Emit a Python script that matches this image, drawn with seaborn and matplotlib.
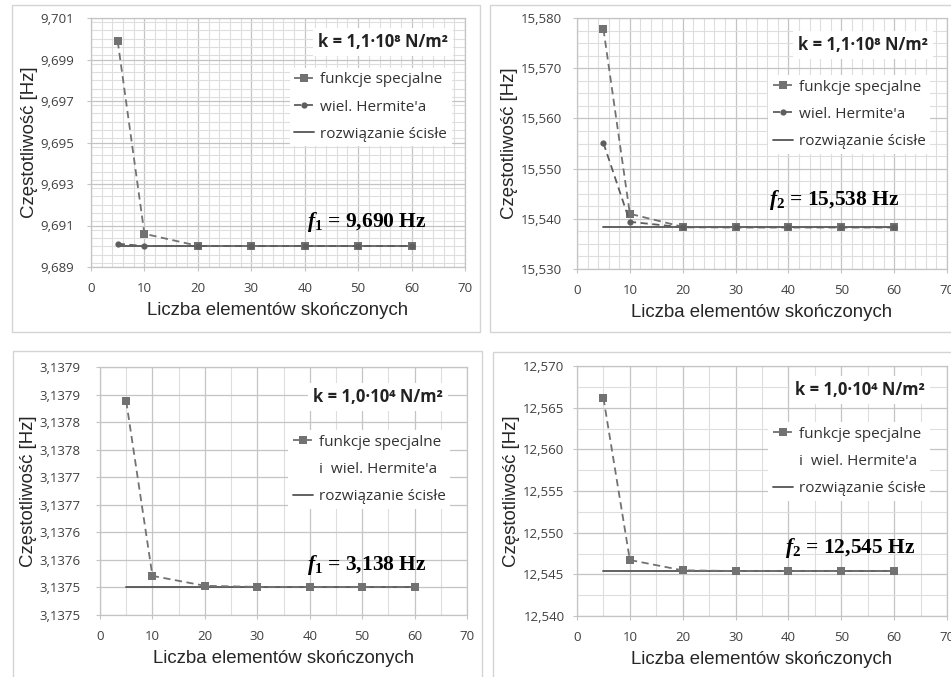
import numpy as np
import pandas as pd
from matplotlib import pyplot as plt
from matplotlib.lines import Line2D
from matplotlib.ticker import MultipleLocator, FixedLocator, FixedFormatter
import seaborn as sns

sns.set_style('white')
plt.rcParams['font.family'] = ['Open Sans', 'DejaVu Sans']
plt.rcParams['mathtext.fontset'] = 'custom'
plt.rcParams['mathtext.rm'] = 'Liberation Serif:bold'
plt.rcParams['mathtext.it'] = 'Liberation Serif:italic:bold'
plt.rcParams['mathtext.bf'] = 'Liberation Serif:bold'

# liczba elementow skonczonych
n_el = [5, 10, 20, 30, 40, 50, 60]
exact_x = [5, 60]

# k = 1,1e8, f1
f1_spec = [9.69988, 9.6906, 9.69002, 9.69001, 9.69001, 9.69001, 9.69001]
f1_herm = [9.69012, 9.69001, 9.69001, 9.69001, 9.69001, 9.69001, 9.69001]
f1_exact = 9.69001
f1_yticks = [9.689, 9.691, 9.693, 9.695, 9.697, 9.699, 9.701]
f1_ylabels = ['9,689', '9,691', '9,693', '9,695', '9,697', '9,699', '9,701']

# k = 1,1e8, f2
f2_spec = [15.5778, 15.5410, 15.5384, 15.5383, 15.5383, 15.5383, 15.5383]
f2_herm = [15.5551, 15.5394, 15.5383, 15.5383, 15.5383, 15.5383, 15.5383]
f2_exact = 15.5383
f2_yticks = [15.53, 15.54, 15.55, 15.56, 15.57, 15.58]
f2_ylabels = ['15,530', '15,540', '15,550', '15,560', '15,570', '15,580']

# k = 1,0e4, f1 (funkcje specjalne i Hermite daja to samo)
f3_spec = [3.137838, 3.137521, 3.137503, 3.137501, 3.137501, 3.137501, 3.137501]
f3_exact = 3.137500
f3_yticks = [3.13745, 3.1375, 3.13755, 3.1376, 3.13765, 3.1377, 3.13775, 3.1378, 3.13785, 3.1379]
f3_ylabels = ['3,1375', '3,1375', '3,1376', '3,1376', '3,1377', '3,1377', '3,1378', '3,1378', '3,1379', '3,1379']

# k = 1,0e4, f2
f4_spec = [12.56616, 12.54672, 12.54548, 12.5454, 12.5454, 12.5454, 12.5454]
f4_exact = 12.54536
f4_yticks = [12.54, 12.545, 12.55, 12.555, 12.56, 12.565, 12.57]
f4_ylabels = ['12,540', '12,545', '12,550', '12,555', '12,560', '12,565', '12,570']

xticks = [0, 10, 20, 30, 40, 50, 60, 70]

W, H = 951, 677
fig = plt.figure(figsize=(W / 100, H / 100), dpi=100)

# ramki wykresow (jak w Excelu)
for x0, y0, x1, y1 in [(12, 5, 480, 332), (490, 5, 956, 332), (13, 351, 482, 680), (493, 352, 956, 680)]:
    fig.add_artist(plt.Rectangle((x0 / W, 1 - y1 / H), (x1 - x0) / W, (y1 - y0) / H,
                                 transform=fig.transFigure, fill=False, ec='#d4d4d4', lw=1))

def make_ax(l, t, r, b):
    return fig.add_axes([l / W, 1 - b / H, (r - l) / W, (b - t) / H])

c_spec = '#727272'
c_herm = '#5e5e5e'
c_exact = '#555555'
dash = (0, (4, 2.5))

def style_ax(ax, yticks, ylabels, xminor, yminor, ypad):
    ax.set_xlim(0, 70)
    ax.set_ylim(yticks[0], yticks[-1])
    ax.xaxis.set_major_locator(FixedLocator(xticks))
    ax.set_xticklabels([str(v) for v in xticks])
    ax.xaxis.set_minor_locator(MultipleLocator(xminor))
    ax.yaxis.set_major_locator(FixedLocator(yticks))
    ax.yaxis.set_major_formatter(FixedFormatter(ylabels))
    if yminor:
        ax.yaxis.set_minor_locator(MultipleLocator(yminor))
    ax.grid(True, which='major', color='#c4c4c4', lw=0.9)
    ax.grid(True, which='minor', color='#dedede', lw=0.8)
    ax.set_axisbelow(True)
    for s in ax.spines.values():
        s.set_color('#c4c4c4')
        s.set_linewidth(0.9)
    ax.tick_params(which='major', length=3, color='#c4c4c4', labelsize=9.5,
                   labelcolor='#404040', direction='out', left=True, bottom=True)
    ax.tick_params(axis='y', which='major', pad=ypad)
    ax.tick_params(axis='x', which='major', pad=8)
    ax.tick_params(which='minor', length=0)
    ax.set_xlabel('Liczba elementów skończonych', fontfamily='Liberation Sans', fontsize=13.4, labelpad=5)
    ax.set_ylabel('Częstotliwość [Hz]', fontfamily='Liberation Sans', fontsize=13.4, labelpad=2)

def add_texts(ax, ktxt, kx, ky, ftxt, fx, fy, lx, ly, split=False):
    handles, labels = ax.get_legend_handles_labels()
    if split:
        handles.insert(1, Line2D([], [], color='none'))
        labels.insert(1, "i  wiel. Hermite'a")
    leg = ax.legend(handles, labels, loc='upper right', bbox_to_anchor=(lx, ly), frameon=True,
                    framealpha=1, edgecolor='none', fancybox=False, fontsize=11, handlelength=1.3,
                    handletextpad=0.4, borderpad=0.3, labelspacing=0.8, borderaxespad=0)
    leg.set_zorder(5)
    for t in leg.get_texts():
        t.set_color('#333333')
    ax.text(kx, ky, ktxt, transform=ax.transAxes, ha='right', va='center', fontsize=12,
            fontweight='bold', color='#222222', zorder=6,
            bbox=dict(boxstyle='square,pad=0.3', fc='white', ec='none'))
    ax.text(fx, fy, ftxt, transform=ax.transAxes, ha='left', va='center', fontsize=15.5,
            fontfamily='Liberation Serif', fontweight='bold', color='black', zorder=6)

def plot_exact(ax, val):
    sns.lineplot(x=exact_x, y=[val, val], ax=ax, color=c_exact, lw=1.3, label='rozwiązanie ścisłe', zorder=3)

# --- wykres 1
ax1 = make_ax(91, 18, 465, 267)
sns.lineplot(x=n_el, y=f1_spec, ax=ax1, color=c_spec, marker='s', markersize=5.5, markeredgewidth=0,
             linestyle=dash, lw=1.3, label='funkcje specjalne', zorder=4)
sns.lineplot(x=n_el, y=f1_herm, ax=ax1, color=c_herm, marker='o', markersize=4.5, markeredgewidth=0,
             linestyle=dash, lw=1.3, label="wiel. Hermite'a", zorder=4)
plot_exact(ax1, f1_exact)
style_ax(ax1, f1_yticks, f1_ylabels, 2, 0.0004, 9)
add_texts(ax1, 'k = 1,1·10⁸ N/m²', 0.955, 0.905, '$f_1$ = 9,690 Hz', 0.578, 0.18, 0.965, 0.80)

# --- wykres 2
ax2 = make_ax(577, 18, 947, 269)
sns.lineplot(x=n_el, y=f2_spec, ax=ax2, color=c_spec, marker='s', markersize=5.5, markeredgewidth=0,
             linestyle=dash, lw=1.3, label='funkcje specjalne', zorder=4)
sns.lineplot(x=n_el, y=f2_herm, ax=ax2, color=c_herm, marker='o', markersize=4.5, markeredgewidth=0,
             linestyle=dash, lw=1.3, label="wiel. Hermite'a", zorder=4)
plot_exact(ax2, f2_exact)
style_ax(ax2, f2_yticks, f2_ylabels, 2, 0.0025, 8)
add_texts(ax2, 'k = 1,1·10⁸ N/m²', 0.949, 0.892, '$f_2$ = 15,538 Hz', 0.52, 0.275, 0.955, 0.773)

# --- wykres 3
ax3 = make_ax(100, 367, 467, 615)
sns.lineplot(x=n_el, y=f3_spec, ax=ax3, color=c_spec, marker='s', markersize=5.5, markeredgewidth=0,
             linestyle=dash, lw=1.3, label='funkcje specjalne', zorder=4)
plot_exact(ax3, f3_exact)
style_ax(ax3, f3_yticks, f3_ylabels, 5, None, 11)
add_texts(ax3, 'k = 1,0·10⁴ N/m²', 0.935, 0.88, '$f_1$ = 3,138 Hz', 0.564, 0.2, 0.955, 0.746, split=True)

# --- wykres 4
ax4 = make_ax(577, 366, 947, 616)
sns.lineplot(x=n_el, y=f4_spec, ax=ax4, color=c_spec, marker='s', markersize=5.5, markeredgewidth=0,
             linestyle=dash, lw=1.3, label='funkcje specjalne', zorder=4)
plot_exact(ax4, f4_exact)
style_ax(ax4, f4_yticks, f4_ylabels, 5, 0.0025, 6)
add_texts(ax4, 'k = 1,0·10⁴ N/m²', 0.94, 0.904, '$f_2$ = 12,545 Hz', 0.562, 0.27, 0.955, 0.776, split=True)

fig.savefig('out.png', dpi=100)
